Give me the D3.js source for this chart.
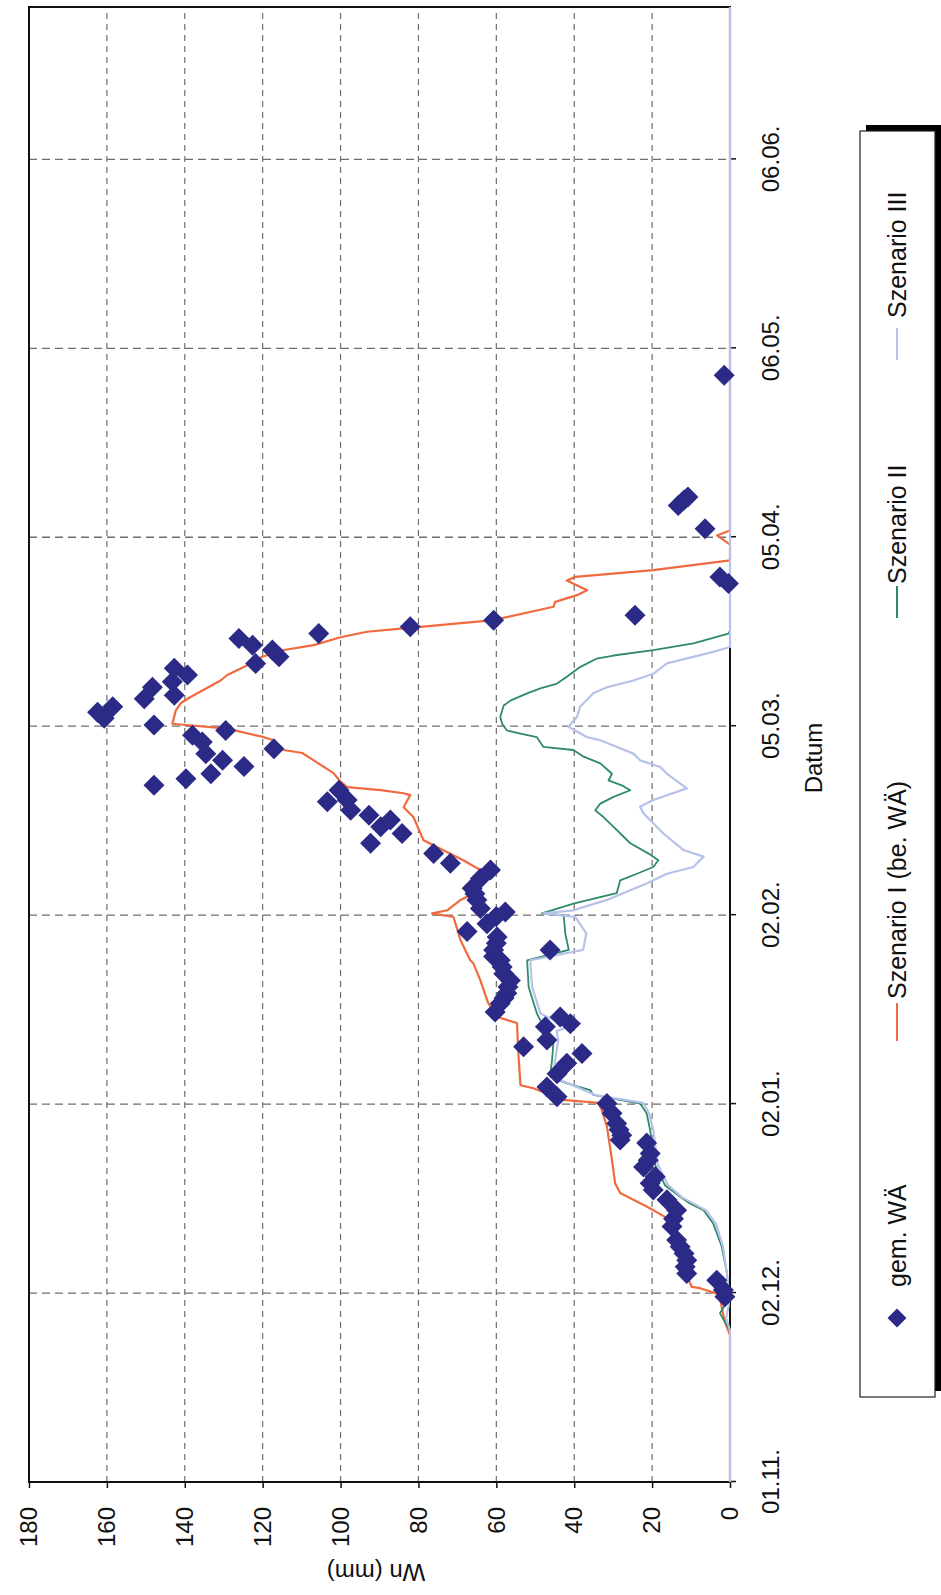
<!DOCTYPE html>
<html>
<head>
<meta charset="utf-8">
<script src="https://cdn.jsdelivr.net/npm/d3@7"></script>
<style>
  body { margin: 0; background: #fff; }
  svg { display: block; font-family: "Liberation Sans", Arial, Helvetica, sans-serif; }
</style>
</head>
<body>
<svg id="chart" width="941" height="1595"></svg>
<script>
// Season axis: days counted from 01.11. up to 01.07.
const seasonDays = 242;
const dateTickDays = [0, 31, 62, 93, 124, 155, 186, 217];
const dateTickLabels = ["01.11.", "02.12.", "02.01.", "02.02.", "05.03.", "05.04.", "06.05.", "06.06."];
const valueTicks = [0, 20, 40, 60, 80, 100, 120, 140, 160, 180];

// gem. WÄ – measured snow water equivalent (mm)
const measDays = [30.4, 31.5, 33.1, 34.2, 35.3, 36.4, 37.5, 38.6, 39.7, 41.9, 43.2, 44.6, 46.3, 47.9, 49.0, 50.1, 51.7, 52.8, 53.9, 55.6, 56.1, 56.9, 57.8, 58.8, 60.5, 62.1,
  63.2, 64.8, 67.0, 68.7, 70.3, 71.4, 72.5, 74.7, 75.2, 76.3, 77.1, 78.5, 79.4, 80.2, 81.2, 82.3, 83.4, 84.5, 85.6, 86.2, 87.3, 87.3, 88.4, 89.4, 90.3, 91.6, 92.8, 93.5, 94.1, 95.5, 96.5, 97.4, 99.0, 100.4,
  101.5, 103.1, 104.8, 106.4, 107.5, 108.6, 109.4, 110.2, 111.6, 111.9, 113.5, 114.3, 115.4, 116.2, 117.4, 118.4, 119.5, 120.3, 121.4, 122.5, 123.3, 124.2, 125.3, 126.3, 127.2, 128.5, 129.1, 130.4,
  131.3, 132.4, 133.5, 134.3, 135.4, 136.5, 137.3, 138.4, 139.2, 140.3, 141.4, 142.2, 147.4, 148.5, 156.4, 160.2, 161.1, 161.6, 181.6];
const measWn = [1.3, 1.7, 3.4, 11.1, 11.5, 11.1, 11.8, 12.8, 13.7, 14.9, 14.5, 13.7, 16.2, 19.7, 20.5, 19.2, 22.2, 21.0, 20.5, 21.4, 28.2, 27.8, 28.5, 29.1, 30.3, 31.6,
  44.4, 47.0, 44.4, 41.9, 38.0, 53.0, 47.0, 47.4, 41.0, 43.6, 60.3, 59.0, 58.0, 57.3, 57.0, 56.4, 58.1, 58.5, 59.0, 60.7, 60.7, 46.2, 60.0, 59.8, 67.5, 62.4, 60.0, 57.7, 64.1, 65.0, 65.5, 66.2, 64.1, 61.5,
  71.8, 76.1, 92.3, 84.2, 89.7, 87.2, 92.7, 97.4, 103.4, 98.3, 100.4, 147.9, 139.7, 133.3, 124.8, 130.3, 134.6, 117.1, 135.5, 138.0, 129.5, 147.9, 160.7, 162.4, 158.5, 150.4, 142.7, 148.3,
  143.2, 139.3, 142.7, 121.8, 115.8, 117.5, 122.6, 126.1, 105.6, 82.1, 60.7, 24.4, 0.4, 2.6, 6.4, 13.3, 11.8, 10.8, 1.5];

// Szenario I (be. WÄ)
const sz1Days = [0, 24.1, 26.2, 28.2, 30.5, 31.0, 31.8, 32.0, 35.3, 38.6, 43.0, 43.5, 45.2, 47.4, 49.0, 52.8, 58.3, 61.0, 62.2, 62.7, 64.6, 65.1, 70.9, 75.3, 76.3, 78.6,
  82.3, 85.1, 85.6, 88.9, 92.7, 93.3, 93.8, 95.5, 97.1, 100.4, 102.0, 105.3, 109.1, 110.7, 112.7, 113.0, 113.5, 114.0, 114.9, 116.3, 118.4, 119.6, 120.1, 121.7, 122.2,
  123.6, 124.2, 124.4, 126.6, 127.8, 128.8, 131.5, 132.4, 134.0, 135.4, 136.5, 137.3, 138.6, 139.5, 140.0, 140.3, 141.4, 143.6, 144.4, 145.5, 146.3, 147.9, 148.5,
  149.6, 151.2, 153.8, 155.3, 156.1, 242];
const sz1Wn = [0, 0, 1.3, 2.0, 2.6, 3.8, 7.7, 9.8, 12.1, 13.7, 15.9, 16.7, 21.4, 28.2, 29.5, 30.3, 31.6, 32.9, 33.8, 42.8, 50.5, 53.8, 54.4, 54.7, 59.8, 62.1,
  64.1, 65.9, 66.7, 69.2, 71.0, 76.5, 72.6, 69.2, 64.1, 64.1, 68.5, 78.7, 81.3, 83.8, 82.1, 83.8, 89.7, 98.3, 100.0, 101.8, 106.9, 109.8, 114.6, 117.2, 119.7,
  129.1, 139.7, 143.2, 142.3, 141.0, 138.5, 130.8, 129.1, 123.9, 120.1, 114.5, 106.9, 100.0, 93.2, 84.6, 79.5, 60.7, 45.3, 44.9, 39.3, 36.7, 41.9, 39.7,
  19.7, 0, 0, 3.3, 0, 0];

// Szenario II
const sz2Days = [0, 24.9, 26.5, 27.7, 29.5, 31.0, 34.3, 38.6, 42.4, 44.6, 45.7, 46.8, 48.7, 52.0, 57.7, 60.5, 62.1, 63.5, 64.3, 65.4, 66.5, 69.2, 72.5, 74.7, 76.9,
  81.2, 85.6, 87.3, 90.0, 93.0, 93.3, 94.9, 96.6, 98.7, 99.8, 100.9, 102.0, 103.1, 104.8, 107.5, 109.1, 110.2, 111.3, 112.4, 113.5, 114.3, 115.1, 116.2, 117.9,
  119.0, 120.1, 120.6, 122.2, 122.8, 123.3, 124.4, 125.5, 127.4, 128.2, 129.4, 130.2, 131.0, 132.1, 133.7, 135.1, 135.6, 136.5, 137.6, 139.2, 139.7, 242];
const sz2Wn = [0, 0, 1.5, 2.6, 0.8, 0.4, 0.8, 2.1, 4.3, 6.8, 10.3, 12.8, 16.7, 19.2, 20.5, 21.4, 23.1, 35.1, 35.9, 41.9, 46.2, 45.7, 45.3, 47.9, 49.6,
  51.7, 52.1, 41.4, 42.3, 42.7, 48.3, 40.2, 29.1, 28.2, 23.9, 19.7, 18.4, 20.9, 25.6, 29.9, 32.5, 34.6, 33.3, 29.9, 25.6, 27.8, 31.2, 30.3, 33.3,
  37.6, 40.2, 47.9, 49.6, 53.8, 57.3, 58.5, 59.0, 58.1, 56.4, 52.1, 48.7, 44.4, 41.9, 38.5, 34.2, 29.9, 19.7, 9.4, 0.4, 0, 0];

// Szenario III
const sz3Days = [0, 24.9, 26.9, 29.0, 31.0, 34.3, 38.6, 42.4, 44.6, 45.8, 46.7, 48.7, 52.0, 57.7, 60.5, 62.2, 63.5, 65.4, 66.4, 69.2, 72.5, 74.0, 75.3, 76.0, 76.9,
  81.2, 85.6, 87.3, 90.0, 92.7, 93.3, 93.8, 95.5, 98.2, 99.8, 100.9, 102.6, 103.7, 106.4, 109.7, 110.8, 111.9, 113.8, 115.4, 116.2, 117.3, 118.4, 119.5, 121.7,
  122.2, 123.9, 125.5, 127.2, 129.4, 130.4, 131.5, 132.6, 134.3, 136.2, 137.0, 242];
const sz3Wn = [0, 0, 1.0, 0.3, 0.3, 0.8, 1.8, 3.6, 6.2, 9.7, 12.3, 15.9, 18.5, 19.7, 20.8, 22.3, 34.6, 41.5, 45.4, 44.9, 44.1, 44.5, 38.5, 46.0, 48.7,
  50.8, 51.3, 37.7, 36.9, 39.7, 47.9, 40.2, 31.6, 21.4, 16.2, 9.4, 6.8, 12.0, 17.1, 22.2, 23.1, 19.7, 11.1, 14.5, 16.2, 17.9, 23.1, 24.8, 33.3,
  36.7, 41.5, 39.3, 38.5, 35.1, 31.6, 24.8, 19.7, 16.2, 4.3, 0, 0];

const colors = { meas: "#2c2a87", sz1: "#f06a3e", sz2: "#2f8a6c", sz3: "#b7c2ea" };

const zip = (a, b) => a.map((d, i) => [d, b[i]]);

// The chart is laid out in its own frame (dates along x, Wn along y)
// and the whole frame is turned a quarter turn counter-clockwise.
const X0 = 29, Y0 = 1482, W = 1475, H = 701;
const svg = d3.select("#chart");
const g = svg.append("g").attr("transform", `translate(${X0},${Y0}) rotate(-90)`);

const x = d3.scaleLinear().domain([0, seasonDays]).range([0, W]);
const y = d3.scaleLinear().domain([0, 180]).range([H, 0]);

// grid
g.append("g").selectAll("line")
  .data(valueTicks.filter(v => v > 0 && v < 180))
  .join("line")
  .attr("x1", 0).attr("x2", W)
  .attr("y1", d => y(d)).attr("y2", d => y(d))
  .attr("stroke", "#6e6e6e").attr("stroke-width", 1.2).attr("stroke-dasharray", "6,5");
g.append("g").selectAll("line")
  .data(dateTickDays.filter(d => d > 0))
  .join("line")
  .attr("x1", d => x(d)).attr("x2", d => x(d))
  .attr("y1", 0).attr("y2", H)
  .attr("stroke", "#6e6e6e").attr("stroke-width", 1.3).attr("stroke-dasharray", "8,5");

// plot frame
g.append("rect").attr("x", 0).attr("y", 0).attr("width", W).attr("height", H)
  .attr("fill", "none").attr("stroke", "#111").attr("stroke-width", 2);

// axes
const styleAxis = sel => {
  sel.attr("font-family", null).attr("font-size", null);
  sel.select(".domain").remove();
  sel.selectAll(".tick line").attr("stroke", "#111").attr("stroke-width", 1.5);
  sel.selectAll(".tick text").attr("fill", "#111").attr("font-size", 24);
};
g.append("g")
  .call(d3.axisLeft(y).tickValues(valueTicks).tickFormat(d3.format("d")).tickSize(6).tickPadding(19))
  .call(styleAxis);
g.append("g").attr("transform", `translate(0,${H})`)
  .call(d3.axisBottom(x).tickValues(dateTickDays).tickFormat((d, i) => dateTickLabels[i]).tickSize(6).tickPadding(26))
  .call(styleAxis);

// axis titles
g.append("text").attr("x", 724).attr("y", 785).attr("dy", "0.35em")
  .attr("text-anchor", "middle").attr("font-size", 24).attr("fill", "#111").text("Datum");
g.append("text").attr("transform", "translate(-90,347) rotate(-90)").attr("dy", "0.35em")
  .attr("text-anchor", "middle").attr("font-size", 24).attr("fill", "#111").text("Wn (mm)");

// series lines
const line = d3.line().x(d => x(d[0])).y(d => y(d[1]));
[[sz1Days, sz1Wn, colors.sz1, 2.2], [sz2Days, sz2Wn, colors.sz2, 1.8], [sz3Days, sz3Wn, colors.sz3, 2.2]]
  .forEach(([dd, vv, c, w]) => {
    g.append("path").datum(zip(dd, vv)).attr("d", line)
      .attr("fill", "none").attr("stroke", c).attr("stroke-width", w).attr("stroke-linejoin", "round");
  });

// measured points
const diamond = r => `M0,${-r}L${r},0L0,${r}L${-r},0Z`;
g.append("g").selectAll("path")
  .data(zip(measDays, measWn))
  .join("path")
  .attr("transform", d => `translate(${x(d[0])},${y(d[1])})`)
  .attr("d", diamond(10.5))
  .attr("fill", colors.meas);

// legend
const lg = { x: 85, y: 831, w: 1266, h: 75 };
const legend = g.append("g");
legend.append("rect").attr("x", lg.x + 6).attr("y", lg.y + 6).attr("width", lg.w).attr("height", lg.h).attr("fill", "#000");
legend.append("rect").attr("x", lg.x).attr("y", lg.y).attr("width", lg.w).attr("height", lg.h)
  .attr("fill", "#fff").attr("stroke", "#222").attr("stroke-width", 1.2);
const cy = lg.y + 37;
legend.append("path").attr("transform", `translate(164,${cy})`).attr("d", diamond(9.5)).attr("fill", colors.meas);
const legendItems = [
  { label: "gem. WÄ", tx: 195 },
  { label: "Szenario I (be. WÄ)", tx: 483, x1: 441, x2: 479, c: colors.sz1 },
  { label: "Szenario II", tx: 898, x1: 864, x2: 896, c: colors.sz2 },
  { label: "Szenario III", tx: 1164, x1: 1122, x2: 1154, c: colors.sz3 }
];
legendItems.forEach(it => {
  if (it.c) {
    legend.append("line").attr("x1", it.x1).attr("x2", it.x2).attr("y1", cy).attr("y2", cy)
      .attr("stroke", it.c).attr("stroke-width", 2);
  }
  legend.append("text").attr("x", it.tx).attr("y", cy).attr("dy", "0.35em")
    .attr("font-size", 25).attr("fill", "#111").text(it.label);
});
</script>
</body>
</html>
